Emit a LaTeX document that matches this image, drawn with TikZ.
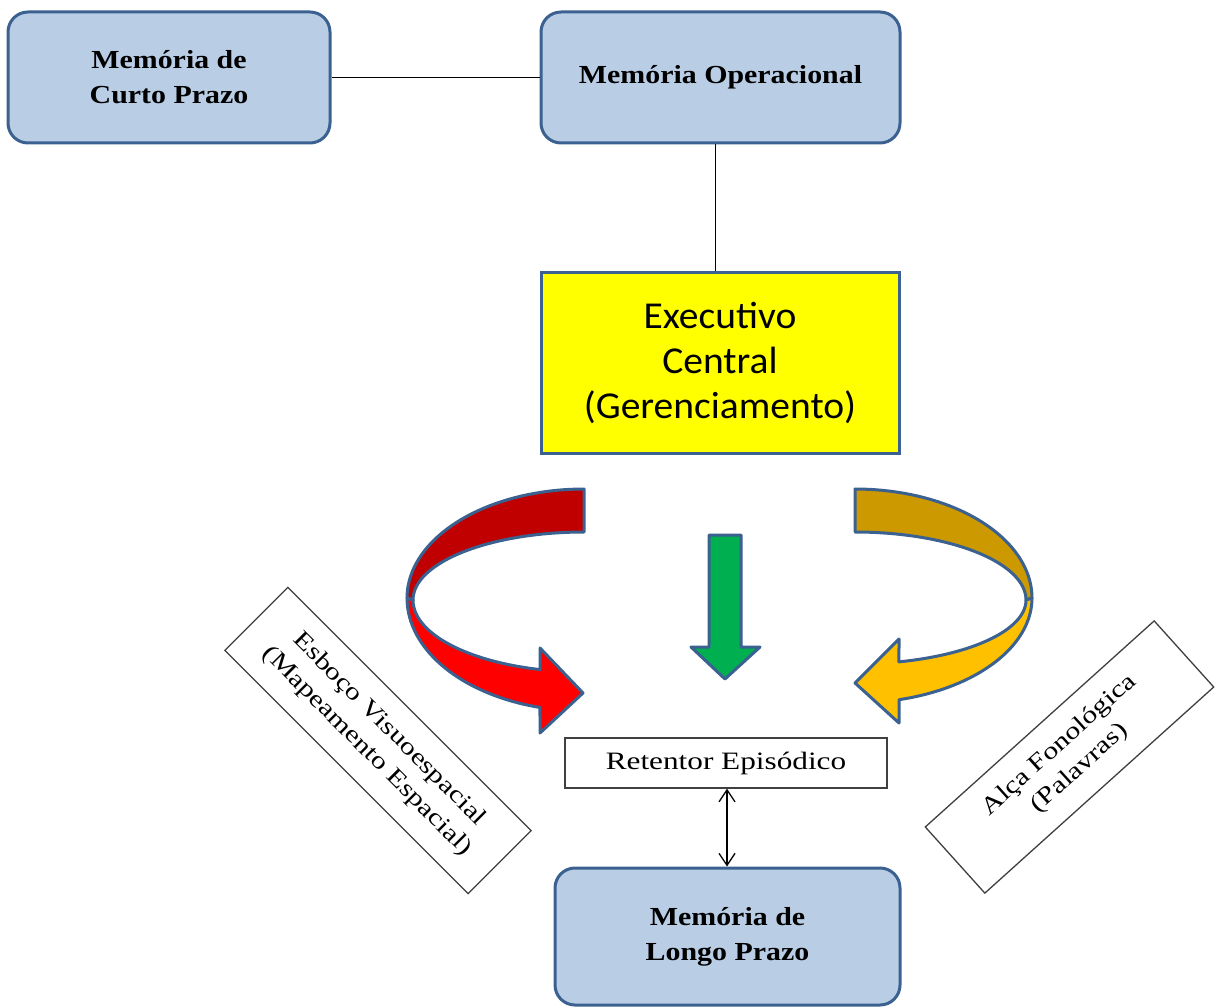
\documentclass[tikz,border=0pt]{standalone}
\usepackage{fontspec}
\setmainfont{Liberation Serif}
\newfontfamily\tnrfont[FakeStretch=1.25]{Liberation Serif}
\newfontfamily\tnrbfont[FakeStretch=1.15]{Liberation Serif Bold}
\newfontfamily\calfont[FakeStretch=1.04]{Carlito}
\usetikzlibrary{arrows.meta}
\definecolor{boxblue}{HTML}{B9CDE5}
\definecolor{edgeblue}{HTML}{3A6190}
\definecolor{darkred}{HTML}{C00000}
\definecolor{brightred}{HTML}{FF0000}
\definecolor{darkgold}{HTML}{CC9900}
\definecolor{amber}{HTML}{FFC000}
\definecolor{arrowgreen}{HTML}{00B050}
\definecolor{boxyellow}{HTML}{FFFF00}
\tikzset{
  mem/.style={draw=edgeblue, line width=3pt, fill=boxblue, rounded corners=20pt,
    inner sep=0pt, align=center, font=\tnrbfont\fontsize{26}{35}\selectfont},
  plainbox/.style={draw=black!75, line width=1.3pt, fill=white, inner sep=0pt,
    align=center, font=\tnrfont\fontsize{24}{31}\selectfont},
  conn/.style={draw=black, line width=1.3pt},
  ribbon/.style={draw=edgeblue, line width=3pt, line join=round},
  twoway/.style={<->, >={Straight Barb[length=12pt,width=16pt]}}
}
\begin{document}
\begin{tikzpicture}[x=1pt,y=-1pt]
\useasboundingbox (0,0) rectangle (1217,1008);
\fill[white] (0,0) rectangle (1217,1008);

% boxes
\node[mem, minimum width=322pt, minimum height=131pt] (stm) at (169,77.5) {Memória de\\Curto Prazo};
\node[mem, minimum width=359pt, minimum height=131pt] (wm) at (720.5,77.5) {Memória Operacional};
\node[draw=edgeblue, line width=3pt, fill=boxyellow, inner sep=0pt, minimum width=358pt, minimum height=181pt,
  align=center, font=\calfont\fontsize{38}{45}\selectfont] (ce) at (720,362.5) {Executivo\\Central\\(Gerenciamento)};
\node[plainbox, font=\tnrfont\fontsize{25}{30}\selectfont, minimum width=322pt, minimum height=50pt] (eb) at (726,763) {Retentor Episódico};
\node[mem, minimum width=345pt, minimum height=137pt] (ltm) at (727.5,936.5) {Memória de\\Longo Prazo};
\node[plainbox, rotate=-45, minimum width=344pt, minimum height=89pt] (vs) at (378,740.5) {Esboço Visuoespacial\\(Mapeamento Espacial)};
\node[plainbox, rotate=42, minimum width=308pt, minimum height=89pt] (pl) at (1069.5,757) {Alça Fonológica\\(Palavras)};

% connectors
\draw[conn] (stm.east) -- (wm.west);
\draw[conn] ([xshift=-5pt]wm.south) -- ([xshift=-5pt]wm.south |- ce.north);
\draw[conn, twoway] ([xshift=1pt]eb.south) -- ([xshift=1pt]eb.south |- ltm.north);

% green arrow
\draw[ribbon, fill=arrowgreen] (709,535) -- (741,535) -- (741,647) -- (760,647) -- (725,679) -- (691,647) -- (709,647) -- cycle;

% red curved arrow
\draw[ribbon, fill=darkred] plot[domain=90:180, samples=40, variable=\t] ({584+177*cos(\t)},{598-109*sin(\t)})
  -- plot[domain=180:90, samples=40, variable=\t] ({584+171*cos(\t)},{600-68*sin(\t)}) -- cycle;
\draw[ribbon, fill=brightred] plot[domain=180:255.6, samples=40, variable=\t] ({584+177*cos(\t)},{598-113*sin(\t)})
  -- (540,733) -- (583,693) -- (540,648)
  -- plot[domain=255.1:180, samples=40, variable=\t] ({584+171*cos(\t)},{600-72*sin(\t)}) -- cycle;

% yellow curved arrow
\draw[ribbon, fill=darkgold] plot[domain=90:180, samples=40, variable=\t] ({855-177*cos(\t)},{598-109*sin(\t)})
  -- plot[domain=180:90, samples=40, variable=\t] ({855-171*cos(\t)},{600-68*sin(\t)}) -- cycle;
\draw[ribbon, fill=amber] plot[domain=180:255.6, samples=40, variable=\t] ({855-177*cos(\t)},{598-105*sin(\t)})
  -- (899,723) -- (855,683) -- (899,639)
  -- plot[domain=255.1:180, samples=40, variable=\t] ({855-171*cos(\t)},{600-64*sin(\t)}) -- cycle;
\end{tikzpicture}
\end{document}
